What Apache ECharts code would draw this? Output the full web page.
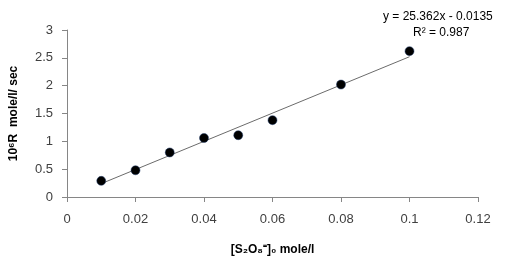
<!DOCTYPE html>
<html>
<head>
<meta charset="utf-8">
<script src="https://cdn.jsdelivr.net/npm/echarts@6/dist/echarts.min.js"></script>
<style>
  html, body { margin: 0; padding: 0; background: #fff; }
  #chart { width: 519px; height: 265px; }
</style>
</head>
<body>
<div id="chart"></div>
<script>
  // measured points
  var concX = [0.01, 0.02, 0.03, 0.04, 0.05, 0.06, 0.08, 0.1];
  var rateY = [0.29, 0.48, 0.80, 1.06, 1.11, 1.38, 2.02, 2.62];
  // trendline ends
  var trendX = [0.01, 0.1];
  var trendY = [0.24, 2.52];
  var eqText = ['y = 25.362x - 0.0135', 'R² = 0.987'];

  var myChart = echarts.init(document.getElementById('chart'));
  var font = 'Liberation Sans';

  var option = {
    animation: false,
    textStyle: { fontFamily: font },
    grid: { left: 65, right: 41, top: 30, bottom: 68 },
    xAxis: {
      type: 'value',
      min: 0, max: 0.12, interval: 0.02,
      name: '[S₂O₈⁼]₀ mole/l',
      nameLocation: 'middle',
      nameGap: 47,
      nameTextStyle: { fontSize: 12, fontWeight: 'bold', color: '#000', fontFamily: font },
      axisLine: { lineStyle: { color: '#868686', width: 1 } },
      axisTick: { show: true, length: 5, lineStyle: { color: '#868686' } },
      splitLine: { show: false },
      axisLabel: { fontSize: 13, color: '#404040', margin: 16 }
    },
    yAxis: {
      type: 'value',
      min: 0, max: 3, interval: 0.5,
      name: '10⁶R  mole/l/ sec',
      nameLocation: 'middle',
      nameGap: 47,
      nameTextStyle: { fontSize: 12, fontWeight: 'bold', color: '#000', fontFamily: font },
      axisLine: { show: true, lineStyle: { color: '#868686', width: 1 } },
      axisTick: { show: true, length: 5, lineStyle: { color: '#868686' } },
      splitLine: { show: false },
      axisLabel: { fontSize: 13, color: '#404040', margin: 14 }
    },
    graphic: [
      {
        type: 'text', left: 383, top: 11,
        style: { text: eqText[0], fontSize: 12, fill: '#000', fontFamily: font }
      },
      {
        type: 'text', left: 413, top: 27,
        style: { text: eqText[1], fontSize: 12, fill: '#000', fontFamily: font }
      }
    ],
    series: [
      {
        type: 'line',
        data: trendX.map(function (x, i) { return [x, trendY[i]]; }),
        symbol: 'none',
        lineStyle: { color: '#6b6b6b', width: 1 },
        z: 1
      },
      {
        type: 'scatter',
        data: concX.map(function (x, i) { return [x, rateY[i]]; }),
        symbolSize: 9,
        itemStyle: { color: '#000', opacity: 1, borderColor: '#1f3a6b', borderWidth: 0.5 },
        z: 2
      }
    ]
  };
  myChart.setOption(option, true);
</script>
</body>
</html>
